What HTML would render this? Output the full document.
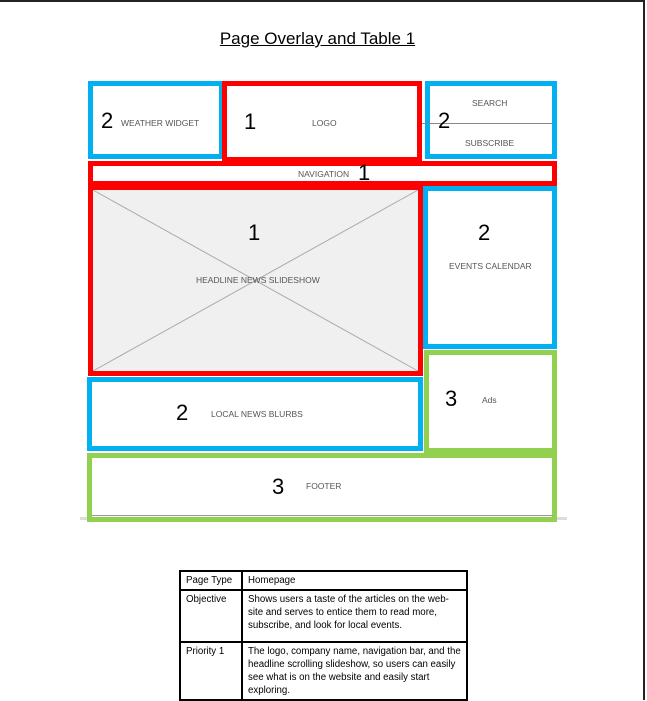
<!DOCTYPE html>
<html><head><style>
body{margin:0;width:647px;height:700px;position:relative;background:#fff;overflow:hidden;font-family:"Liberation Sans",Arial,sans-serif}
.frame{position:absolute;left:0;top:0;width:645px;height:700px;border-top:2px solid #222;border-right:2px solid #222;box-sizing:border-box}
.b{position:absolute;box-sizing:border-box}
.bl{border:5px solid #00b0f0}
.rd{border:5px solid #ff0000}
.gr{border:5px solid #92d050}
.t{position:absolute;font-size:8.5px;color:#555;white-space:nowrap}
.n{position:absolute;font-family:"Liberation Sans",sans-serif;font-size:22px;color:#000}
td{border:2px solid #000;vertical-align:top;padding:2px 5px;font-size:9.7px;line-height:13px;font-family:"Liberation Sans",sans-serif}
</style></head><body>
<div class="frame"></div>
<div style="position:absolute;left:0;width:635px;top:29px;text-align:center;font-size:17px;text-decoration:underline">Page Overlay and Table 1</div>
<div style="position:absolute;left:80px;top:517px;width:487px;height:3px;background:#ddd"></div>
<div class="b" style="left:88px;top:185px;width:335px;height:191px;background:#f0f0f0"></div>
<svg style="position:absolute;left:88px;top:185px" width="335" height="191"><line x1="5" y1="5" x2="330" y2="186" stroke="#aaa"/><line x1="330" y1="5" x2="5" y2="186" stroke="#aaa"/></svg>
<div class="b bl" style="left:88px;top:81px;width:136px;height:78px"></div>
<div class="b rd" style="left:222px;top:81px;width:200px;height:81px"></div>
<div class="b bl" style="left:425px;top:81px;width:132px;height:78px"></div>
<div style="position:absolute;left:422px;top:123px;width:130px;height:1px;background:#888"></div>
<div class="b rd" style="left:88px;top:161px;width:469px;height:25px"></div>
<div class="b rd" style="left:88px;top:185px;width:335px;height:191px"></div>
<div class="b bl" style="left:423px;top:186px;width:134px;height:163px"></div>
<div class="b gr" style="left:424px;top:350px;width:133px;height:103px"></div>
<div class="b bl" style="left:87px;top:377px;width:336px;height:74px"></div>
<div class="b gr" style="left:87px;top:453px;width:470px;height:69px"></div>
<div style="position:absolute;left:92px;top:515px;width:461px;height:1px;background:#999"></div>
<div class="t" style="left:121px;top:118px">WEATHER WIDGET</div>
<div class="t" style="left:312px;top:118px">LOGO</div>
<div class="t" style="left:472px;top:98px">SEARCH</div>
<div class="t" style="left:465px;top:138px">SUBSCRIBE</div>
<div class="t" style="left:298px;top:169px">NAVIGATION</div>
<div class="t" style="left:196px;top:275px">HEADLINE NEWS SLIDESHOW</div>
<div class="t" style="left:449px;top:261px">EVENTS CALENDAR</div>
<div class="t" style="left:482px;top:395px">Ads</div>
<div class="t" style="left:211px;top:409px">LOCAL NEWS BLURBS</div>
<div class="t" style="left:306px;top:481px">FOOTER</div>
<div class="n" style="left:101px;top:108px">2</div>
<div class="n" style="left:244px;top:109px">1</div>
<div class="n" style="left:438px;top:108px">2</div>
<div class="n" style="left:358px;top:160px">1</div>
<div class="n" style="left:248px;top:220px">1</div>
<div class="n" style="left:478px;top:220px">2</div>
<div class="n" style="left:445px;top:386px">3</div>
<div class="n" style="left:176px;top:400px">2</div>
<div class="n" style="left:272px;top:474px">3</div>
<table style="position:absolute;left:179px;top:570px;width:289px;border-collapse:collapse">
<tr><td style="width:50px;height:13px">Page Type</td><td>Homepage</td></tr>
<tr><td style="height:46px">Objective</td><td>Shows users a taste of the articles on the web-site and serves to entice them to read more, subscribe, and look for local events.</td></tr>
<tr><td>Priority 1</td><td>The logo, company name, navigation bar, and the headline scrolling slideshow, so users can easily see what is on the website and easily start exploring.</td></tr>
</table>
</body></html>
